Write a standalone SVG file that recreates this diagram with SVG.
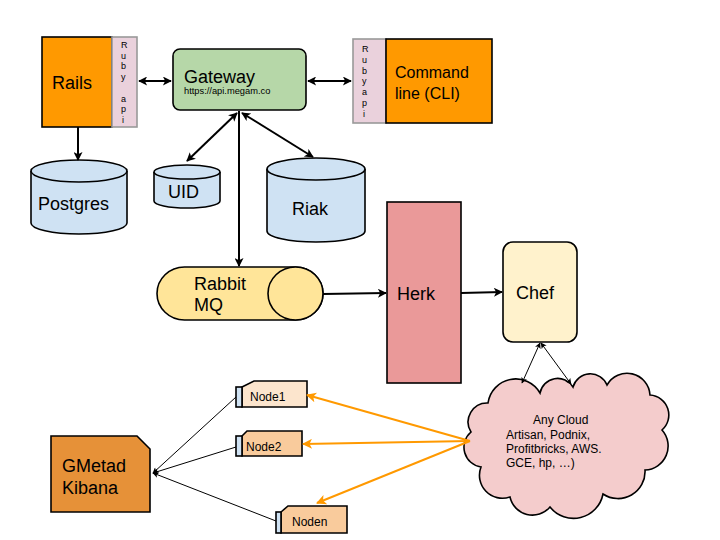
<svg xmlns="http://www.w3.org/2000/svg" width="720" height="540" viewBox="0 0 720 540">
<defs>
<style>
text{font-family:"Liberation Sans",Arial,sans-serif;fill:#000}
.big{font-size:18px}
.mid{font-size:16px}
.sm{font-size:12px}
.lt{font-size:9px}
.bx{stroke:#000;stroke-width:1.6}
.strip{fill:#ead1dc;stroke:#999;stroke-width:1.6}
.cyl{fill:#cfe2f3;stroke:#000;stroke-width:1.6}
.ln{fill:none;stroke:#000;stroke-width:2}
.thin{fill:none;stroke:#000;stroke-width:1}
.or{fill:none;stroke:#ff9900;stroke-width:2}
</style>
<marker id="ab" viewBox="0 0 10 10" refX="9" refY="5" markerWidth="11" markerHeight="9" markerUnits="userSpaceOnUse" orient="auto-start-reverse">
<path d="M0,0 L10,5 L0,10 L2.5,5 z" fill="#000"/>
</marker>
<marker id="ao" viewBox="0 0 10 10" refX="9" refY="5" markerWidth="12" markerHeight="10" markerUnits="userSpaceOnUse" orient="auto-start-reverse">
<path d="M0,0 L10,5 L0,10 L2.5,5 z" fill="#ff9900"/>
</marker>
<marker id="at" viewBox="0 0 10 10" refX="9" refY="5" markerWidth="7" markerHeight="6" markerUnits="userSpaceOnUse" orient="auto-start-reverse">
<path d="M0,0 L10,5 L0,10 L2.5,5 z" fill="#000"/>
</marker>
</defs>
<rect width="720" height="540" fill="#fff"/>

<g id="rails">
<rect class="bx" x="42" y="37" width="70" height="90" fill="#ff9900"/>
<rect class="strip" x="112" y="37" width="25" height="90"/>
<text class="big" x="52" y="89">Rails</text>
<text x="121" y="48" class="lt">R</text>
<text x="121" y="58.7" class="lt">u</text>
<text x="121" y="69.4" class="lt">b</text>
<text x="121" y="80.1" class="lt">y</text>
<text x="121" y="101.5" class="lt">a</text>
<text x="121" y="112.2" class="lt">p</text>
<text x="122" y="123" class="lt">i</text>
</g>

<g id="gateway">
<rect class="bx" x="173" y="49" width="133" height="61" rx="7" fill="#b6d7a8"/>
<text class="big" x="184" y="83">Gateway</text>
<text x="184" y="94" style="font-size:9.3px">https://api.megam.co</text>
</g>

<g id="cli">
<rect class="strip" x="353" y="39" width="33" height="84"/>
<rect class="bx" x="386" y="39" width="106" height="84" fill="#ff9900"/>
<text class="mid" x="395" y="78">Command</text>
<text class="mid" x="395" y="99">line (CLI)</text>
<text x="362" y="52" class="lt">R</text>
<text x="362" y="62.8" class="lt">u</text>
<text x="362" y="73.6" class="lt">b</text>
<text x="362" y="84.4" class="lt">y</text>
<text x="362" y="95.2" class="lt">a</text>
<text x="362" y="106" class="lt">p</text>
<text x="363" y="116.8" class="lt">i</text>
</g>

<g id="postgres">
<path class="cyl" d="M31,171 A48,11 0 0 1 127,171 V223 A48,11 0 0 1 31,223 Z"/>
<path class="cyl" fill="none" d="M31,171 A48,11 0 0 0 127,171"/>
<text class="big" x="38" y="210">Postgres</text>
</g>

<g id="uid">
<path class="cyl" d="M154,172 A33,7 0 0 1 220,172 V201 A33,7 0 0 1 154,201 Z"/>
<path class="cyl" fill="none" d="M154,172 A33,7 0 0 0 220,172"/>
<text class="big" x="168" y="198">UID</text>
</g>

<g id="riak">
<path class="cyl" d="M267,169 A49,11 0 0 1 365,169 V231 A49,11 0 0 1 267,231 Z"/>
<path class="cyl" fill="none" d="M267,169 A49,11 0 0 0 365,169"/>
<text class="big" x="292" y="215">Riak</text>
</g>

<g id="rabbitmq">
<path class="bx" fill="#ffe599" d="M184.5,267 H295.5 A27.5,26.5 0 0 1 295.5,320 H184.5 A27.5,26.5 0 0 1 184.5,267 Z"/>
<ellipse class="bx" fill="#ffe599" cx="295.5" cy="293.5" rx="27.5" ry="26.5"/>
<text class="big" x="194" y="290">Rabbit</text>
<text class="big" x="194" y="311">MQ</text>
</g>

<g id="herk">
<rect class="bx" x="387" y="202" width="74" height="181" fill="#ea9999"/>
<text class="big" x="397" y="300">Herk</text>
</g>

<g id="chef">
<rect class="bx" x="503" y="242" width="74" height="100" rx="10" fill="#fff2cc"/>
<text class="big" x="516" y="299">Chef</text>
</g>

<g id="cloud">
<path class="bx" fill="#f4cccc" d="M488,403 A28,28 0 0 1 540,393 A18,18 0 0 1 573,387 A18,18 0 0 1 607,385 A23,23 0 0 1 650,395 A20,20 0 0 1 662,430 A24,24 0 0 1 645,470 A27,27 0 0 1 603,494 A30,30 0 0 1 550,507 A23,23 0 0 1 510,497 A23,23 0 0 1 481,467 A20,20 0 0 1 471,432 A19,19 0 0 1 488,403 Z"/>
<text class="sm" x="533" y="424">Any Cloud</text>
<text class="sm" x="506" y="439">Artisan, Podnix,</text>
<text class="sm" x="506" y="453">Profitbricks, AWS.</text>
<text class="sm" x="506" y="467">GCE, hp, …)</text>
</g>

<g id="gmetad">
<path class="bx" fill="#e69138" d="M51,436 H137 L150,449 V512 H51 Z"/>
<text class="big" x="62" y="472">GMetad</text>
<text class="big" x="62" y="494">Kibana</text>
</g>

<g id="node1">
<path class="bx" fill="#fce5cd" d="M242,387 L254,381 H307 V407 H242 Z"/>
<rect class="bx" x="236" y="387" width="6" height="20" fill="#cfe2f3"/>
<text class="sm" x="250" y="401">Node1</text>
</g>

<g id="node2">
<path class="bx" fill="#f9cb9c" d="M242,436 L247,431 H302 V456 H242 Z"/>
<rect class="bx" x="236" y="436" width="6" height="20" fill="#cfe2f3"/>
<text class="sm" x="246" y="451">Node2</text>
</g>

<g id="noden">
<path class="bx" fill="#f9cb9c" d="M281,512 L288,506 H347 V533 H281 Z"/>
<rect class="bx" x="276" y="512" width="5" height="21" fill="#cfe2f3"/>
<text class="sm" x="292" y="526">Noden</text>
</g>

<g id="connectors">
<line class="ln" x1="139" y1="81" x2="171" y2="81" marker-start="url(#ab)" marker-end="url(#ab)"/>
<line class="ln" x1="308" y1="81" x2="351" y2="81" marker-start="url(#ab)" marker-end="url(#ab)"/>
<line class="ln" x1="78" y1="127" x2="78" y2="160" marker-end="url(#ab)"/>
<line class="ln" x1="237" y1="113" x2="187" y2="161" marker-start="url(#ab)" marker-end="url(#ab)"/>
<line class="ln" x1="242" y1="113" x2="313" y2="157" marker-start="url(#ab)" marker-end="url(#ab)"/>
<line class="ln" x1="239" y1="111" x2="239" y2="266" marker-end="url(#ab)"/>
<line class="ln" x1="323" y1="294" x2="386" y2="293" marker-end="url(#ab)"/>
<line class="ln" x1="461" y1="293" x2="502" y2="292" marker-end="url(#ab)"/>
<line class="thin" x1="540" y1="343" x2="522" y2="383" marker-start="url(#at)" marker-end="url(#at)"/>
<line class="thin" x1="541" y1="343" x2="571" y2="384" marker-start="url(#at)" marker-end="url(#at)"/>
<line class="thin" x1="236" y1="397" x2="153" y2="473" marker-end="url(#at)"/>
<line class="thin" x1="236" y1="447" x2="153" y2="473" marker-end="url(#at)"/>
<line class="thin" x1="276" y1="521" x2="153" y2="473" marker-end="url(#at)"/>
<line class="or" x1="470" y1="441" x2="307" y2="395" marker-end="url(#ao)"/>
<line class="or" x1="470" y1="441" x2="303" y2="444" marker-end="url(#ao)"/>
<line class="or" x1="470" y1="441" x2="317" y2="503" marker-end="url(#ao)"/>
</g>
</svg>
